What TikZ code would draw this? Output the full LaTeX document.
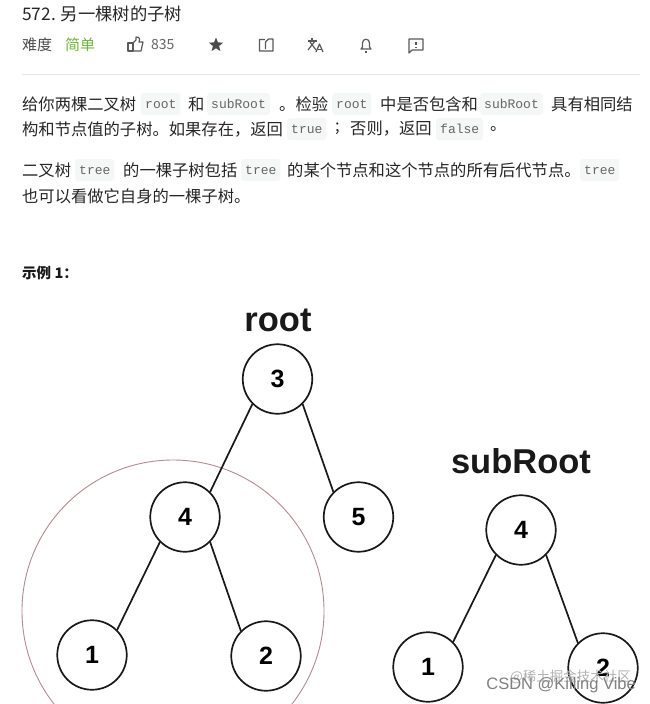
\documentclass[tikz,border=0pt]{standalone}
\usepackage{fontspec}
\usetikzlibrary{shapes.geometric}
\setmainfont{Liberation Sans}
\setmonofont{Liberation Mono}
\newfontfamily\cjk{Noto Sans CJK SC}
\newcommand{\zhcomma}{\symbol{"FF0C}}
\newcommand{\zhcolon}{\symbol{"FF1A}}
\definecolor{codebg}{HTML}{F5F6F6}
\definecolor{inktext}{HTML}{262626}
\definecolor{easygreen}{HTML}{6FB53C}
\definecolor{circlered}{HTML}{B58A8C}
\tikzset{
  treenode/.style={circle,draw=black!90,line width=1.7pt,fill=white,minimum size=69.5pt,inner sep=0pt,font=\fontsize{25}{25}\selectfont\bfseries},
  treeline/.style={draw=black!90,line width=1.7pt},
  bodytext/.style={anchor=west,inner sep=0pt,text=inktext,font=\fontsize{16.3}{16.3}\selectfont\cjk},
  codebox/.style={anchor=west,fill=codebg,rounded corners=3pt,inner xsep=4pt,inner ysep=0pt,minimum height=22pt,text=black!60,font=\fontsize{13}{13}\selectfont\ttfamily},
  icon/.style={draw=black!65,line width=1.2pt,line join=round}
}
\begin{document}
\begin{tikzpicture}[x=1pt,y=-1pt]
\useasboundingbox (0,0) rectangle (649,704);
\fill[white] (0,0) rectangle (649,704);
\node[bodytext,font=\fontsize{17.3}{17.3}\selectfont\cjk] (title) at (22,14) {572. 另一棵树的子树};
\node[bodytext,font=\fontsize{15}{15}\selectfont\cjk,text=black!70] (level) at (22,45) {难度};
\node[bodytext,font=\fontsize{15}{15}\selectfont\cjk,text=easygreen] (easy) at (65,45) {简单};
\node[bodytext,font=\fontsize{14}{14}\selectfont\cjk,text=black!60] (likes) at (151,45) {835};
\draw[icon] (128,51) -- (128,43) -- (133,43) -- (133,51) -- cycle;
\draw[icon] (133,43) -- (136,40) -- (136,37) .. controls (140,37) and (140,39) .. (139,42) -- (143,42) -- (141,51) -- (133,51);
\node[star,star points=5,star point ratio=2.3,fill=black!70,inner sep=0pt,minimum size=15pt] (star) at (216,45) {};
\draw[icon] (265,39.5) -- (259.5,39.5) -- (259.5,51) -- (273,51) -- (273,39) -- (268.5,39) -- (265.5,42) -- (265.5,49);
\draw[icon] (308,41) -- (317,41);
\draw[icon] (312,38) -- (312,41);
\draw[icon] (310,42) -- (316,50);
\draw[icon] (315,41) -- (308,50);
\draw[icon] (316,52) -- (319.5,44) -- (323,52);
\draw[icon] (317.5,49.5) -- (321.5,49.5);
\draw[icon] (361,49) -- (362.5,47) -- (362.5,43) .. controls (362.5,38) and (369.5,38) .. (369.5,43) -- (369.5,47) -- (371,49) -- cycle;
\draw[icon] (365,52) -- (367,52);
\draw[icon] (409,39) -- (423,39) -- (423,50) -- (412,50) -- (409,53) -- cycle;
\draw[icon] (416,41.5) -- (416,45);
\draw[icon] (416,46.5) -- (416,48);
\draw[draw=black!10] (22,74) -- (640,74);
\foreach \n/\x/\y/\l in{
a1/22/104/{给你两棵二叉树},
a2/188/104/{和},
a3/279/104/{。检验},
a4/380/104/{中是否包含和},
a5/551/104/{具有相同结},
b1/22/129/{构和节点值的子树。如果存在\zhcomma 返回},
b2/335/129/{;},
b3/350/129/{否则\zhcomma 返回},
b4/490/129/{。},
c1/22/170/{二叉树},
c2/123/170/{的一棵子树包括},
c3/287/170/{的某个节点和这个节点的所有后代节点。},
d1/22/196/{也可以看做它自身的一棵子树。}
}
{
        \node[bodytext] (\n) at (\x,\y) {\l};
    }
\foreach \n/\x/\y/\l in{
code1/141/104/{root},
code2/207/104/{subRoot},
code3/332/104/{root},
code4/480/104/{subRoot},
code5/287/129/{true},
code6/436/129/{false},
code7/75/170/{tree},
code8/241/170/{tree},
code9/580/170/{tree}
}
{
        \node[codebox] (\n) at (\x,\y) {\l};
    }
\node[bodytext,text=black!90,font=\fontsize{14.5}{14.5}\selectfont\cjk\bfseries] (example) at (22,273) {示例 1\zhcolon};
\node[font=\fontsize{34.5}{34.5}\selectfont\bfseries,text=black!90,inner sep=0pt] (rootname) at (278,320) {root};
\node[font=\fontsize{34.5}{34.5}\selectfont\bfseries,text=black!90,inner sep=0pt] (subname) at (521,461) {subRoot};
\draw[circlered,line width=.9pt] (173,611) circle (151);
\foreach \n/\x/\l in{
r3/{(277.5,379)}/{3},
r4/{(185,517)}/{4},
r5/{(358.5,517)}/{5},
r1/{(92,655)}/{1},
r2/{(266,656)}/{2},
s4/{(521,530)}/{4},
s1/{(428,667)}/{1},
s2/{(603,668)}/{2}
}
{
        \node[treenode] (\n) at \x {\l};
    }
\draw[treeline] (r3.225) -- (r4.45);
\draw[treeline] (r3.315) -- (r5.135);
\draw[treeline] (r4.225) -- (r1.45);
\draw[treeline] (r4.315) -- (r2.135);
\draw[treeline] (s4.225) -- (s1.45);
\draw[treeline] (s4.315) -- (s2.135);
\node[inner sep=0pt,anchor=east,text=black!30,font=\fontsize{13.5}{13.5}\selectfont\cjk] (mark1) at (631,677) {@稀土掘金技术社区};
\node[inner sep=0pt,anchor=east,text=black!50,font=\fontsize{16.5}{16.5}\selectfont] (mark2) at (636,685) {CSDN @Killing Vibe};
\end{tikzpicture}
\end{document}
